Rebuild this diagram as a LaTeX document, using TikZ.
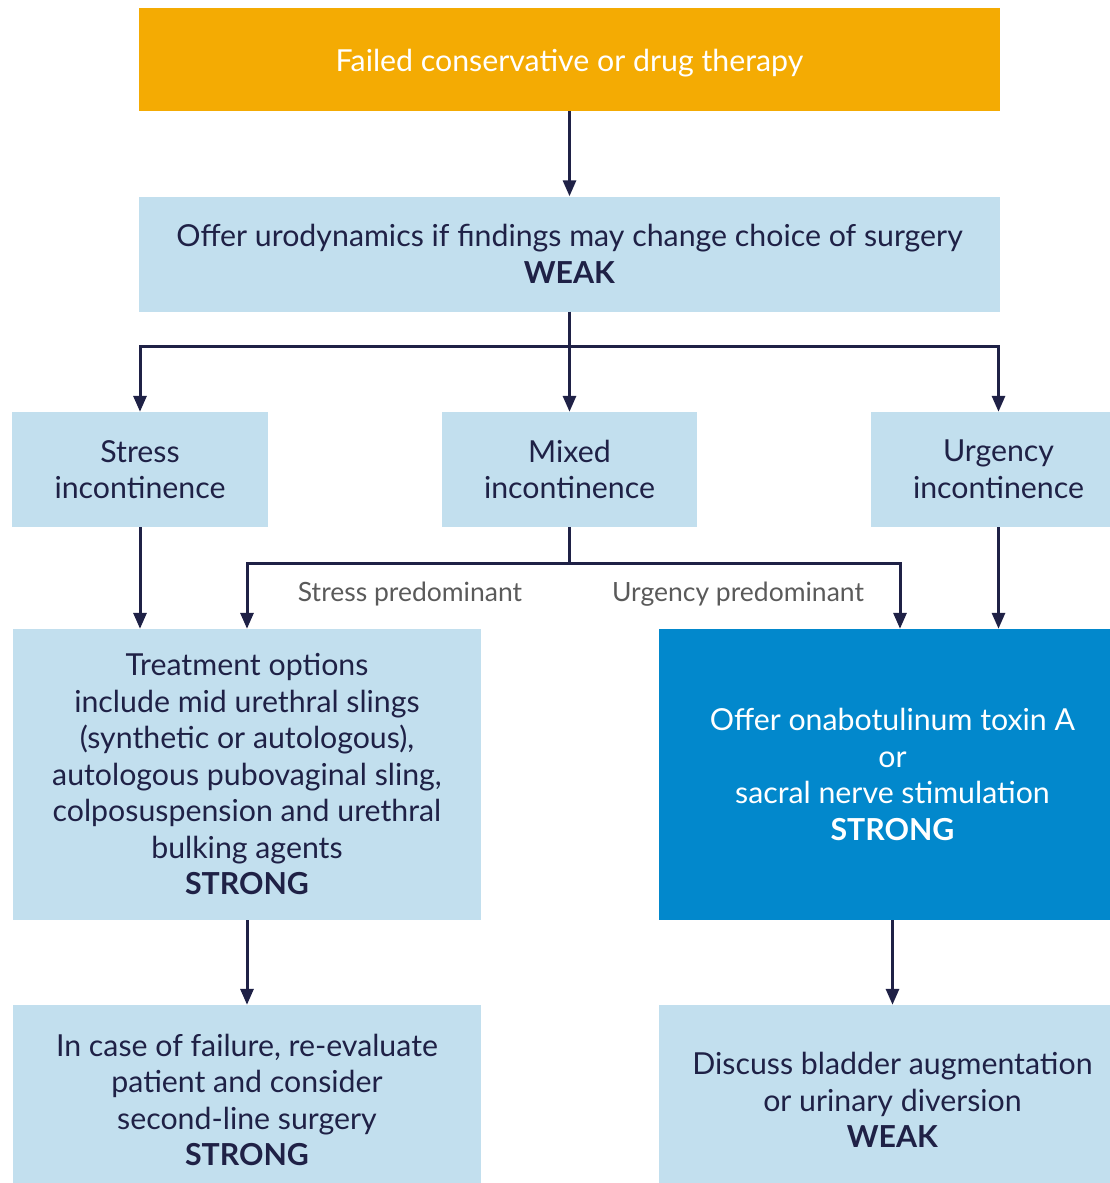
\documentclass[tikz,border=0pt]{standalone}
\usepackage{fontspec}
\setmainfont{Lato}
\usetikzlibrary{arrows.meta,positioning}
\definecolor{amber}{HTML}{F4AB03}
\definecolor{pale}{HTML}{C2DFEE}
\definecolor{deep}{HTML}{0288CC}
\definecolor{navy}{HTML}{1F2146}
\definecolor{muted}{HTML}{5A5A5A}
\tikzset{
  box/.style={
    fill=pale, text=navy, inner sep=0pt,
    align=center, font=\fontsize{30.3}{36.5}\selectfont
  },
  arrow/.style={-{Triangle[length=16pt,width=13pt]}, line width=3pt, draw=navy},
  note/.style={text=muted, font=\fontsize{26.5}{30}\selectfont}
}
\begin{document}
\begin{tikzpicture}[x=1pt,y=-1pt]
    \useasboundingbox (0,0) rectangle (1110,1183);
    \clip (0,0) rectangle (1110,1183);
    \node[box, fill=amber, text=white, text height=30pt, text depth=6pt, minimum width=861pt, minimum height=103pt] (start) at (569.5,59.5) {Failed conservative or drug therapy};
    \node[box, minimum width=861pt, minimum height=115pt] (urod) at (569.5,254) {Offer urodynamics if findings may change choice of surgery\\\textbf{WEAK}};
    \node[box, minimum width=256pt, minimum height=115pt] (stress) at (140,469.5) {Stress\\incontinence};
    \node[box, minimum width=255pt, minimum height=115pt] (mixed) at (569.5,469.5) {Mixed\\incontinence};
    \node[box, minimum width=255pt, minimum height=115pt] (urgency) at (998.5,469.5) {Urgency\\incontinence};
    \node[box, minimum width=468pt, minimum height=291pt] (treat) at (247,774.5) {Treatment options\\include mid urethral slings\\(synthetic or autologous),\\autologous pubovaginal sling,\\colposuspension and urethral\\bulking agents\\\textbf{STRONG}};
    \node[box, fill=deep, text=white, minimum width=467pt, minimum height=291pt] (offer) at (892.5,774.5) {Offer onabotulinum toxin A\\or\\sacral nerve stimulation\\\textbf{STRONG}};
    \node[box, minimum width=468pt, minimum height=190pt] (fail) at (247,1100) {In case of failure, re-evaluate\\patient and consider\\second-line surgery\\\textbf{STRONG}};
    \node[box, minimum width=467pt, minimum height=190pt] (discuss) at (892.5,1100) {Discuss bladder augmentation\\or urinary diversion\\\textbf{WEAK}};
    \node[note] (stresslbl) at (410,594) {Stress predominant};
    \node[note] (urgelbl) at (738,594) {Urgency predominant};
    % branch points
    \coordinate (split1) at (569.5,346);
    \coordinate (split2) at (569.5,563);
    \draw[arrow] (start.south) -- (urod.north);
    \draw[arrow] (urod.south) -- (split1) -| (stress.north);
    \draw[arrow] (split1) -- (mixed.north);
    \draw[arrow] (split1) -| (urgency.north);
    \draw[arrow] (stress) -- (treat.north -| stress);
    \draw[arrow] (mixed.south) -- (split2) -| (treat.north);
    \draw[arrow] (split2) -| ([xshift=7.5pt]offer.north);
    \draw[arrow] (urgency) -- (offer.north -| urgency);
    \draw[arrow] (treat) -- (fail);
    \draw[arrow] (offer) -- (discuss);
\end{tikzpicture}
\end{document}
